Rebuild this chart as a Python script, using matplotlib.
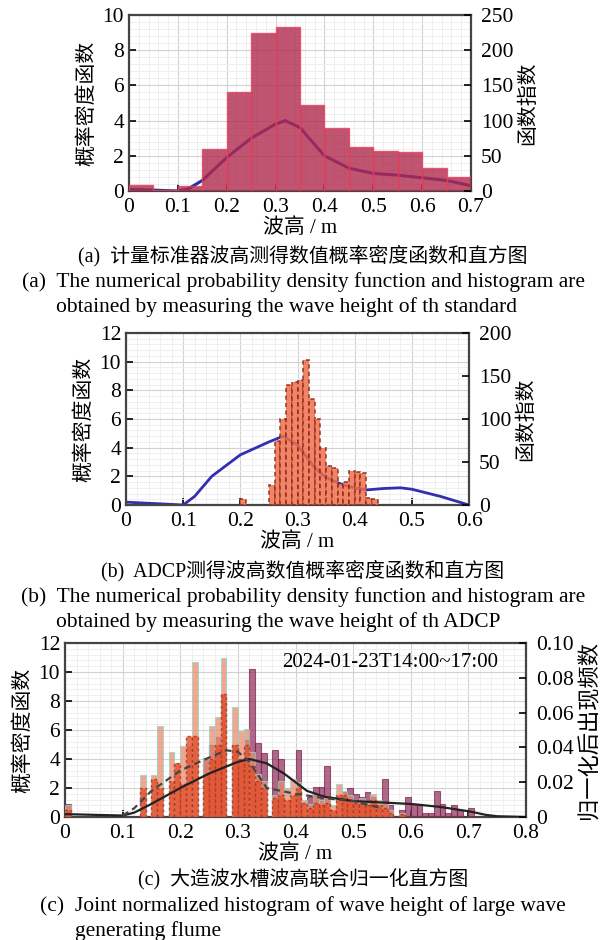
import matplotlib
matplotlib.use("Agg")
import matplotlib.pyplot as plt
from matplotlib.ticker import MultipleLocator, AutoMinorLocator

plt.rcParams["font.family"] = ["Liberation Serif", "Noto Sans CJK SC"]
plt.rcParams["axes.unicode_minus"] = False

# ---- panel (a): standard gauge -------------------------------------------
a_left = [0.00, 0.05, 0.10, 0.15, 0.20, 0.25, 0.30, 0.35, 0.40, 0.45, 0.50, 0.55, 0.60, 0.65]
a_pdf = [0.35, 0.05, 0.30, 2.4, 5.6, 9.0, 9.3, 4.9, 3.6, 2.5, 2.25, 2.2, 1.3, 0.8]
a_curve_x = [0.0, 0.05, 0.10, 0.12, 0.15, 0.20, 0.25, 0.30, 0.32, 0.35, 0.40, 0.45, 0.50, 0.55, 0.60, 0.65, 0.70]
a_curve_y = [0.1, 0.05, 0.0, 0.1, 0.6, 1.9, 3.0, 3.8, 4.0, 3.6, 2.0, 1.3, 1.0, 0.9, 0.75, 0.6, 0.3]

# ---- panel (b): ADCP ------------------------------------------------------
b_left = [0.20, 0.25, 0.26, 0.27, 0.28, 0.29, 0.30, 0.31, 0.32, 0.33, 0.34,
          0.35, 0.36, 0.37, 0.38, 0.39, 0.40, 0.41, 0.42, 0.43]
b_pdf = [0.4, 1.4, 4.5, 6.0, 8.4, 8.6, 8.7, 10.1, 7.4, 6.0, 4.0,
         2.7, 2.6, 1.5, 1.6, 2.4, 2.3, 2.2, 0.5, 0.4]
b_curve_x = [0.0, 0.05, 0.10, 0.12, 0.15, 0.20, 0.25, 0.275, 0.30, 0.33, 0.35, 0.38,
             0.40, 0.42, 0.45, 0.48, 0.50, 0.55, 0.60]
b_curve_y = [0.2, 0.1, 0.0, 0.6, 2.0, 3.5, 4.4, 4.8, 4.2, 2.6, 1.9, 1.4,
             1.2, 1.05, 1.15, 1.2, 1.1, 0.6, 0.0]

# ---- panel (c): joint normalized histogram (0.01 m bins) -----------------
c_left = [0.00, 0.13, 0.15, 0.16, 0.18, 0.19, 0.20, 0.21, 0.22, 0.24, 0.25, 0.26, 0.27,
          0.29, 0.30, 0.31, 0.32, 0.33, 0.34, 0.36, 0.37, 0.38, 0.39, 0.40, 0.41,
          0.42, 0.43, 0.44, 0.45, 0.46, 0.47, 0.48, 0.49, 0.50, 0.51, 0.52, 0.53,
          0.54, 0.55, 0.56, 0.58, 0.59, 0.60, 0.61, 0.62, 0.63, 0.64, 0.65, 0.66,
          0.67, 0.68, 0.70]
c_joint = [0.9, 0.0, 0.0, 0.0, 0.0, 0.0, 0.0, 0.0, 0.0, 4.1, 5.0, 5.5, 8.5,
           5.0, 4.0, 5.3, 10.2, 5.1, 4.4, 4.6, 4.0, 0.0, 0.0, 4.6, 0.0,
           1.4, 2.1, 2.1, 3.5, 0.0, 0.0, 1.7, 2.0, 1.6, 1.4, 1.7, 1.4,
           0.8, 2.6, 0.8, 0.5, 1.4, 0.9, 0.9, 0.3, 0.3, 1.8, 0.9, 0.3,
           0.8, 0.5, 0.6]
c_light = [0.8, 2.9, 2.9, 6.3, 4.5, 3.7, 4.9, 4.9, 10.7, 4.1, 6.3, 6.9, 11.0,
           7.6, 5.9, 6.1, 4.5, 3.0, 2.5, 1.5, 2.5, 2.0, 2.6, 2.4, 1.2,
           0.9, 1.6, 1.2, 1.4, 0.8, 2.3, 1.8, 1.5, 1.2, 1.3, 1.0, 1.6,
           1.2, 1.0, 0.5, 0.3, 0.0, 0.0, 0.0, 0.0, 0.0, 0.0, 0.0, 0.0,
           0.0, 0.0, 0.0]
c_dash = [0.5, 2.0, 2.6, 2.0, 2.5, 3.7, 2.3, 5.6, 5.6, 3.0, 4.0, 5.0, 8.5,
          5.0, 4.0, 5.0, 3.5, 2.5, 2.0, 1.3, 1.5, 1.2, 1.5, 2.0, 1.0,
          0.6, 1.0, 0.8, 1.0, 0.5, 1.5, 1.5, 1.2, 1.0, 1.0, 0.8, 1.2,
          0.8, 0.6, 0.3, 0.2, 0.0, 0.0, 0.0, 0.0, 0.0, 0.0, 0.0, 0.0,
          0.0, 0.0, 0.0]
c_solid_x = [0.0, 0.05, 0.10, 0.12, 0.15, 0.20, 0.25, 0.30, 0.32, 0.35, 0.38, 0.40,
             0.42, 0.45, 0.50, 0.55, 0.60, 0.65, 0.70, 0.73, 0.75, 0.80]
c_solid_y = [0.2, 0.15, 0.1, 0.3, 0.9, 2.0, 3.0, 3.8, 4.0, 3.7, 3.0, 2.4,
             1.8, 1.4, 1.1, 1.0, 0.9, 0.7, 0.4, 0.15, 0.05, 0.0]
c_dash_x = [0.10, 0.12, 0.15, 0.20, 0.25, 0.28, 0.30, 0.32, 0.35, 0.40, 0.45, 0.50, 0.55]
c_dash_y = [0.1, 0.6, 1.8, 3.2, 4.1, 4.6, 4.5, 3.8, 2.0, 1.6, 1.3, 1.1, 0.6]

W, H = 606, 940
TICK_FS = 15.5
LABEL_FS = 15
SPINE = "#444444"


def box(left, top, right, bottom):
    # pixel box -> figure fraction rect
    return [left / W, 1 - bottom / H, (right - left) / W, (bottom - top) / H]


def style_axes(ax, xmax, ymax, ystep):
    ax.set_xlim(0, xmax)
    ax.set_ylim(0, ymax)
    ax.xaxis.set_major_locator(MultipleLocator(0.1))
    ax.yaxis.set_major_locator(MultipleLocator(ystep))
    ax.xaxis.set_minor_locator(AutoMinorLocator(5))
    ax.yaxis.set_minor_locator(AutoMinorLocator(5))
    ax.grid(which="major", color="#d2d2d2", linewidth=0.8)
    ax.grid(which="minor", color="#ededed", linewidth=0.6)
    ax.set_axisbelow(True)
    ax.tick_params(which="major", direction="in", length=5, width=1.2,
                   labelsize=TICK_FS, top=False, right=False)
    ax.tick_params(axis="y", pad=3.5)
    ax.tick_params(axis="x", pad=5)
    ax.tick_params(which="minor", length=0)
    for s in ax.spines.values():
        s.set_color(SPINE)
        s.set_linewidth(1.6)
    ax.xaxis.set_major_formatter(plt.FuncFormatter(lambda v, p: "0" if abs(v) < 1e-9 else f"{v:.1f}"))
    ax.set_ylabel("概率密度函数", fontsize=LABEL_FS, labelpad=4)
    ax.set_xlabel("波高 / m", fontsize=LABEL_FS, labelpad=1)


def twin_right(ax, ymax, step, label, fmt=None, label_fs=LABEL_FS):
    ax2 = ax.twinx()
    ax2.set_ylim(0, ymax)
    ax2.yaxis.set_major_locator(MultipleLocator(step))
    ax2.tick_params(direction="in", length=5, width=1.2, labelsize=TICK_FS, pad=7)
    if fmt:
        ax2.yaxis.set_major_formatter(plt.FuncFormatter(fmt))
    for s in ax2.spines.values():
        s.set_visible(False)
    ax2.set_ylabel(label, fontsize=label_fs, labelpad=4)
    return ax2


fig = plt.figure(figsize=(W / 100, H / 100), dpi=100)

# (a)
ax = fig.add_axes(box(129, 15, 471, 191))
ax.plot(a_curve_x, a_curve_y, color="#2c2ca0", linewidth=2.2, zorder=2)
ax.bar(a_left, a_pdf, width=0.05, align="edge", color="#b02a4e", alpha=0.8,
       edgecolor="#e8405c", linewidth=1.0, zorder=3)
style_axes(ax, 0.7, 10, 2)
twin_right(ax, 250, 50, "函数指数")

# (b)
ax = fig.add_axes(box(126, 333, 469, 505))
ax.plot(b_curve_x, b_curve_y, color="#3030b0", linewidth=2, zorder=2)
ax.bar(b_left, b_pdf, width=0.01, align="edge", color="#f06e4c", alpha=0.85,
       edgecolor="#8a2a1a", linewidth=1.2, linestyle=(0, (2.5, 2)), zorder=3)
style_axes(ax, 0.6, 12, 2)
twin_right(ax, 200, 50, "函数指数")

# (c)
ax = fig.add_axes(box(65, 643, 526, 817))
ax.bar(c_left, c_joint, width=0.01, align="edge", color="#8e2a5a", alpha=0.7,
       edgecolor="#7a2048", linewidth=0.8, zorder=3)
ax.bar(c_left, c_light, width=0.01, align="edge", color="#f08a6a", alpha=0.75,
       edgecolor="#8fd6cc", linewidth=0.8, zorder=4)
ax.bar(c_left, c_dash, width=0.01, align="edge", color="#e3502c", alpha=0.8,
       edgecolor="#b03018", linewidth=1.0, linestyle=(0, (2, 2)), zorder=5)
ax.plot(c_solid_x, c_solid_y, color="#222222", linewidth=1.6, zorder=6)
ax.plot(c_dash_x, c_dash_y, color="#444444", linewidth=1.6, linestyle=(0, (3, 2)), zorder=6)
style_axes(ax, 0.8, 12, 2)
ax.text(0.94, 0.89, "2024-01-23T14:00~17:00", transform=ax.transAxes,
        ha="right", va="center", fontsize=15)
twin_right(ax, 0.10, 0.02, "归一化后出现频数",
           fmt=lambda v, p: "0" if abs(v) < 1e-9 else f"{v:.2f}", label_fs=16)

# ---- captions (english one with hanging indent) --------------------------
CN_FS = 14.3
EN_FS = 15.5
renderer = fig.canvas.get_renderer()


def caption(y_cn, cn, tag, line1, line2):
    fig.text(0.5, 1 - y_cn / H, cn, ha="center", va="center", fontsize=CN_FS)
    full = fig.text(0.5, 1 - (y_cn + 26) / H, f"{tag}  {line1}", ha="center",
                    va="center", fontsize=EN_FS)
    probe = fig.text(0, 0, line1, fontsize=EN_FS)
    x0 = full.get_window_extent(renderer).x1 - probe.get_window_extent(renderer).width
    probe.remove()
    fig.text(x0 / W, 1 - (y_cn + 51) / H, line2, ha="left", va="center", fontsize=EN_FS)


caption(256, "(a)  计量标准器波高测得数值概率密度函数和直方图", "(a)",
        "The numerical probability density function and histogram are",
        "obtained by measuring the wave height of th standard")
caption(571, "(b)  ADCP测得波高数值概率密度函数和直方图", "(b)",
        "The numerical probability density function and histogram are",
        "obtained by measuring the wave height of th ADCP")
caption(880, "(c)  大造波水槽波高联合归一化直方图", "(c)",
        "Joint normalized histogram of wave height of large wave",
        "generating flume")

fig.savefig("out.png", dpi=100)
